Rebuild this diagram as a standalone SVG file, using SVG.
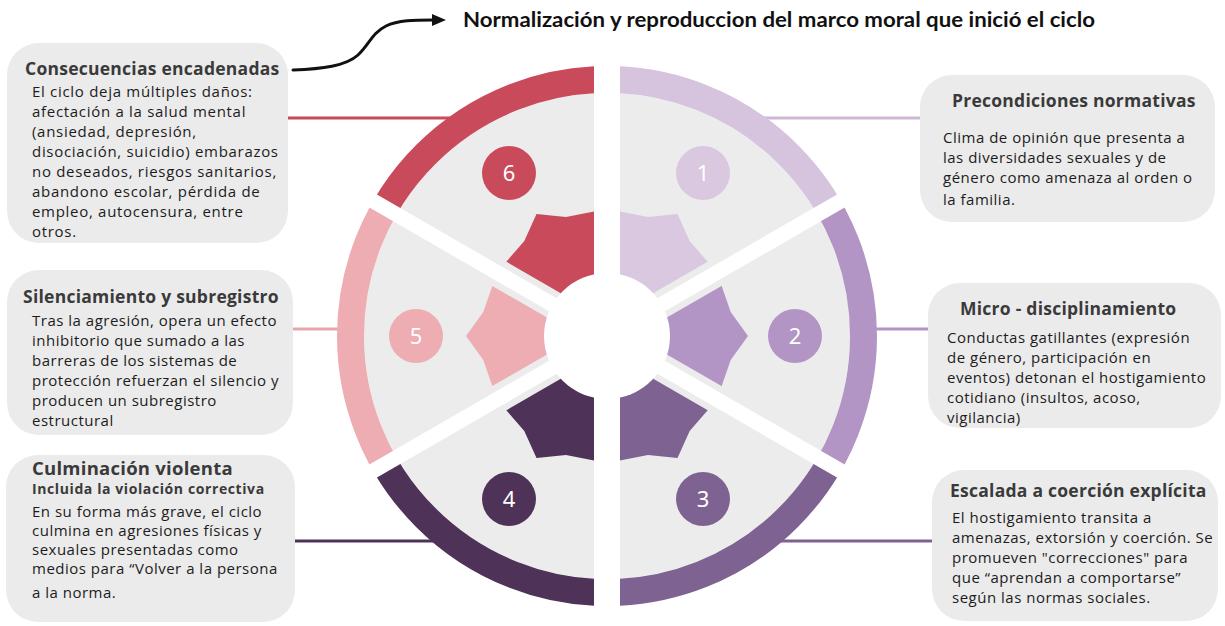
<svg xmlns="http://www.w3.org/2000/svg" width="1225" height="626" viewBox="0 0 1225 626">
<style>
.bg{fill:#ffffff}
.box{fill:#ebebeb}
.gray{fill:#ececec}
.ring{fill:none;stroke-width:27}
.h{font-family:"Open Sans","Noto Sans","Liberation Sans",sans-serif;font-weight:700;font-size:17.5px;letter-spacing:0.25px;fill:#3a3a3a}
.sub{font-family:"Open Sans","Noto Sans","Liberation Sans",sans-serif;font-weight:700;font-size:14px;letter-spacing:0.6px;fill:#3a3a3a}
.b{font-family:"Open Sans","Noto Sans","Liberation Sans",sans-serif;font-size:15px;letter-spacing:0.5px;fill:#1c1c1c}
.bl{letter-spacing:0.7px}
.num{font-family:"Noto Sans","Open Sans",sans-serif;font-size:22px;fill:#ffffff;text-anchor:middle}
.title{font-family:Lato,"Open Sans",sans-serif;font-weight:700;font-size:20.5px;fill:#111111}
.conn{fill:none;stroke-width:3}
.c1{fill:#dac8e1}.s1{stroke:#d6c3de}
.c2{fill:#b395c5}.s2{stroke:#b395c5}
.c3{fill:#7e6291}.s3{stroke:#7e6291}
.c4{fill:#4e3258}.s4{stroke:#4e3258}
.c5{fill:#eeadb2}.s5{stroke:#eeadb2}
.c6{fill:#c94b5b}.s6{stroke:#c94b5b}
</style>
<defs>
<marker id="ah" viewBox="0 0 14 12" refX="1" refY="6" markerWidth="14" markerHeight="12" markerUnits="userSpaceOnUse" orient="auto">
<path d="M0,0 L14,6 L0,12 Z" fill="#111111"/>
</marker>
<clipPath id="g1"><polygon points="629.23,314.5 880.4,169.5 807,-10.4 620,16 620,306"/></clipPath>
<clipPath id="s1"><polygon points="625.98,308.88 877.1,163.9 807,-10.4 620,16 620,306"/></clipPath>
<clipPath id="g6"><polygon points="584.77,314.5 333.6,169.5 407,-10.4 594,16 594,306"/></clipPath>
<clipPath id="s6"><polygon points="588.02,308.88 336.9,163.9 407,-10.4 594,16 594,306"/></clipPath>
<clipPath id="g3"><polygon points="629.23,357.5 880.4,502.5 807,682.4 620,656 620,366"/></clipPath>
<clipPath id="s3"><polygon points="625.98,363.12 877.1,508.1 807,682.4 620,656 620,366"/></clipPath>
<clipPath id="g4"><polygon points="584.77,357.5 333.6,502.5 407,682.4 594,656 594,366"/></clipPath>
<clipPath id="s4"><polygon points="588.02,363.12 336.9,508.1 407,682.4 594,656 594,366"/></clipPath>
<clipPath id="g2"><polygon points="636.73,344.5 887.9,489.5 1007,336 887.9,182.5 636.73,327.5"/></clipPath>
<clipPath id="s2"><polygon points="639.98,338.88 891.1,483.9 1007,336 891.1,188.1 639.98,333.12"/></clipPath>
<clipPath id="g5"><polygon points="577.27,344.5 326.1,489.5 207,336 326.1,182.5 577.27,327.5"/></clipPath>
<clipPath id="s5"><polygon points="574.02,338.88 322.9,483.9 207,336 322.9,188.1 574.02,333.12"/></clipPath>
</defs>
<rect class="bg" x="0" y="0" width="1225" height="626"/>

<g id="connectors">
<line class="conn s6" x1="285" y1="118" x2="470" y2="118"/>
<line class="conn" stroke="#cdb9d6" x1="740" y1="118" x2="925" y2="118"/>
<line class="conn" stroke="#eaa5ab" x1="288" y1="329" x2="352" y2="329"/>
<line class="conn s2" x1="862" y1="329" x2="932" y2="329"/>
<line class="conn s4" x1="290" y1="541" x2="452" y2="541"/>
<line class="conn s3" x1="762" y1="541" x2="936" y2="541"/>
<path class="conn" stroke="#111111" stroke-width="3.3" stroke-linecap="round" d="M293,70 C322,69 346,66 358,55 C369,45 372,33 386,26 C398,20 415,20 433,20" marker-end="url(#ah)"/>
</g>

<g id="title">
<text class="title" x="463" y="27" textLength="632" lengthAdjust="spacingAndGlyphs">Normalización y reproduccion del marco moral que inició el ciclo</text>
</g>

<g id="sector-1">
<circle class="gray" cx="607" cy="336" r="243" clip-path="url(#g1)"/>
<circle class="ring s1" cx="607" cy="336" r="256.5" clip-path="url(#g1)"/>
<polygon class="c1" points="717,272.5 689.7,240.9 677.5,213.9 648,216.9 607,209 607,336" clip-path="url(#s1)"/>
<circle class="c1" cx="703" cy="173" r="27"/>
<text class="num" x="703" y="181">1</text>
</g>
<g id="sector-2">
<circle class="gray" cx="607" cy="336" r="243" clip-path="url(#g2)"/>
<circle class="ring s2" cx="607" cy="336" r="256.5" clip-path="url(#g2)"/>
<polygon class="c2" points="717,399.5 730.7,360 748,336 730.7,312 717,272.5 607,336" clip-path="url(#s2)"/>
<circle class="c2" cx="795" cy="336" r="27"/>
<text class="num" x="795" y="344">2</text>
</g>
<g id="sector-3">
<circle class="gray" cx="607" cy="336" r="243" clip-path="url(#g3)"/>
<circle class="ring s3" cx="607" cy="336" r="256.5" clip-path="url(#g3)"/>
<polygon class="c3" points="717,399.5 689.7,431.1 677.5,458.1 648,455.1 607,463 607,336" clip-path="url(#s3)"/>
<circle class="c3" cx="703" cy="499" r="27"/>
<text class="num" x="703" y="507">3</text>
</g>
<g id="sector-4">
<circle class="gray" cx="607" cy="336" r="243" clip-path="url(#g4)"/>
<circle class="ring s4" cx="607" cy="336" r="256.5" clip-path="url(#g4)"/>
<polygon class="c4" points="497,399.5 524.3,431.1 536.5,458.1 566,455.1 607,463 607,336" clip-path="url(#s4)"/>
<circle class="c4" cx="509" cy="499" r="27"/>
<text class="num" x="509" y="507">4</text>
</g>
<g id="sector-5">
<circle class="gray" cx="607" cy="336" r="243" clip-path="url(#g5)"/>
<circle class="ring s5" cx="607" cy="336" r="256.5" clip-path="url(#g5)"/>
<polygon class="c5" points="497,399.5 483.3,360 466,336 483.3,312 497,272.5 607,336" clip-path="url(#s5)"/>
<circle class="c5" cx="416" cy="336" r="27"/>
<text class="num" x="416" y="344">5</text>
</g>
<g id="sector-6">
<circle class="gray" cx="607" cy="336" r="243" clip-path="url(#g6)"/>
<circle class="ring s6" cx="607" cy="336" r="256.5" clip-path="url(#g6)"/>
<polygon class="c6" points="497,272.5 524.3,240.9 536.5,213.9 566,216.9 607,209 607,336" clip-path="url(#s6)"/>
<circle class="c6" cx="509" cy="173" r="27"/>
<text class="num" x="509" y="181">6</text>
</g>
<g id="hub">
<circle cx="607" cy="336" r="63" fill="#ffffff"/>
</g>

<g id="box-6">
<rect class="box" x="7" y="43" width="281" height="200" rx="32"/>
<text class="h" x="25" y="75">Consecuencias encadenadas</text>
<text class="b bl" x="32" y="97">El ciclo deja múltiples daños:</text>
<text class="b bl" x="32" y="117">afectación a la salud mental</text>
<text class="b bl" x="32" y="137">(ansiedad, depresión,</text>
<text class="b bl" x="32" y="157">disociación, suicidio) embarazos</text>
<text class="b bl" x="32" y="177">no deseados, riesgos sanitarios,</text>
<text class="b bl" x="32" y="197">abandono escolar, pérdida de</text>
<text class="b bl" x="32" y="217">empleo, autocensura, entre</text>
<text class="b bl" x="32" y="237">otros.</text>
</g>
<g id="box-1">
<rect class="box" x="920" y="75" width="295" height="147" rx="32"/>
<text class="h" x="952" y="107">Precondiciones normativas</text>
<text class="b" x="943" y="143">Clima de opinión que presenta a</text>
<text class="b" x="943" y="163">las diversidades sexuales y de</text>
<text class="b" x="943" y="183">género como amenaza al orden o</text>
<text class="b" x="943" y="205">la familia.</text>
</g>
<g id="box-5">
<rect class="box" x="7" y="270" width="286" height="165" rx="32"/>
<text class="h" x="23" y="303">Silenciamiento y subregistro</text>
<text class="b" x="32" y="326">Tras la agresión, opera un efecto</text>
<text class="b" x="32" y="346">inhibitorio que sumado a las</text>
<text class="b" x="32" y="366">barreras de los sistemas de</text>
<text class="b" x="32" y="386">protección refuerzan el silencio y</text>
<text class="b" x="32" y="406">producen un subregistro</text>
<text class="b" x="32" y="426">estructural</text>
</g>
<g id="box-2">
<rect class="box" x="928" y="283" width="293" height="145" rx="32"/>
<text class="h" x="960" y="315">Micro - disciplinamiento</text>
<text class="b" x="947" y="343">Conductas gatillantes (expresión</text>
<text class="b" x="947" y="363">de género, participación en</text>
<text class="b" x="947" y="383">eventos) detonan el hostigamiento</text>
<text class="b" x="947" y="403">cotidiano (insultos, acoso,</text>
<text class="b" x="947" y="423">vigilancia)</text>
</g>
<g id="box-4">
<rect class="box" x="6" y="455" width="289" height="167" rx="32"/>
<text class="h" x="32" y="475" style="font-size:18.5px">Culminación violenta</text>
<text class="sub" x="32" y="494">Incluida la violación correctiva</text>
<text class="b" x="32" y="517">En su forma más grave, el ciclo</text>
<text class="b" x="32" y="536">culmina en agresiones físicas y</text>
<text class="b" x="32" y="555">sexuales presentadas como</text>
<text class="b" x="32" y="574">medios para “Volver a la persona</text>
<text class="b" x="32" y="598">a la norma.</text>
</g>
<g id="box-3">
<rect class="box" x="932" y="470" width="286" height="151" rx="32"/>
<text class="h" x="950" y="497">Escalada a coerción explícita</text>
<text class="b" x="952" y="523">El hostigamiento transita a</text>
<text class="b" x="952" y="543">amenazas, extorsión y coerción. Se</text>
<text class="b" x="952" y="563">promueven "correcciones" para</text>
<text class="b" x="952" y="583">que “aprendan a comportarse”</text>
<text class="b" x="952" y="603">según las normas sociales.</text>
</g>
</svg>
